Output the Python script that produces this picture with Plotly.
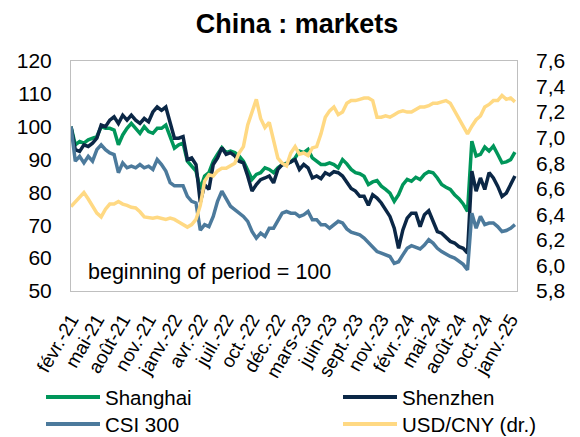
import plotly.graph_objects as go

# ---------------- data (biweekly, week index from start) ----------------
weeks = list(range(0, 208, 2))  # 104 points
tick_weeks = list(range(0, 205, 12))
tick_labels = ["févr.-21", "mai-21", "août-21", "nov.-21", "janv.-22", "avr.-22",
               "juil.-22", "oct.-22", "déc.-22", "mars-23", "juin-23", "sept.-23",
               "nov.-23", "févr.-24", "mai-24", "août-24", "oct.-24", "janv.-25"]

shanghai = [100, 94.5, 95.5, 95, 96, 96.5, 97, 100, 99.5, 99.5,
            99, 94.5, 97.5, 99.5, 101, 99.5, 98, 100, 98.5, 98,
            99.5, 99.5, 100.5, 97, 93.5, 94.5, 95,
            89.5, 88, 86.5, 81, 85, 86, 89.5, 91.6, 93.6, 92.1,
            92.6, 92.1, 91.1, 89.5, 86.5, 84, 85.5, 86, 87.5, 87,
            86, 87.5, 88.5, 89, 89.3, 90.5,
            92.6, 92.1, 93.1, 90.5, 89.5, 88.5, 88.5, 89, 88.5, 87.5,
            90, 88.7, 87, 86, 85.7, 84.9, 82.4, 83.2, 83.6, 81.9,
            80.9, 79.8, 77.3, 79.3, 82.4, 84,
            83.4, 84.6, 83.9, 85.5, 86.3, 86, 84.4, 82.4, 81.6, 80.9,
            79.3, 78.1, 76.5, 74.2, 95.6, 91.1, 91.6, 93.8, 92.6, 94.1,
            91.6, 89, 89.3, 90, 92.3]

shenzhen = [100, 93, 92.5, 94.5, 94, 95, 96.5, 100.5, 100, 102,
            103, 101, 103.5, 102, 103.5, 102, 101, 102.5, 101.5, 104.5,
            106, 105, 106, 101, 96.5, 96.5, 97,
            90, 90.5, 88.5, 77, 82.4, 80.9, 88.5, 90.5, 93.6, 91.6,
            92.1, 91.1, 89.5, 89, 85, 80.4, 82.4, 83.9, 84.4, 85,
            82.9, 87, 88.5, 88.5, 89.3, 90,
            87, 88.5, 87.5, 84.4, 85, 84.2, 86, 85.3, 86.3, 86,
            85, 82.9, 81.2, 80.4, 78.8, 78.8, 76.1, 79.3, 78.3, 76.8,
            74.8, 72.7, 69.1, 63, 68.6, 72.2,
            73.7, 73.7, 69.6, 73.2, 74.4, 71.2, 68.1, 67.6, 66.3, 65.1,
            64.6, 63.5, 63, 61.5, 86.5, 80.4, 84.4, 80.9, 86, 84.4,
            81.9, 78.8, 79.8, 82.4, 85]

csi300 = [100, 89.5, 91, 89, 91, 89.5, 93, 94.5, 93, 92,
          91.5, 86, 89, 87.5, 88, 87.5, 88.5, 87.5, 88, 87,
          90, 88.5, 86.5, 83, 82, 82, 82,
          78.8, 77.3, 76.8, 68.5, 70.2, 69.6, 72.7, 77.3, 80.4, 78.3,
          75.8, 74.8, 73.7, 72.7, 71.2, 68.1, 66.1, 67.6, 66.6, 69.1,
          69.1, 71.2, 73.7, 74.2, 73.7, 73.7,
          72.7, 73.2, 74.2, 71.7, 71.7, 70.2, 70.2, 69.1, 70.2, 71.2,
          70.7, 68.9, 67.9, 67.6, 67.1, 66.1, 64.6, 63.5, 62, 61.5,
          61, 60.5, 58.4, 58.9, 61, 63,
          63.8, 63.2, 62.8, 64, 65.6, 64.6, 63, 62, 61.2, 60.5,
          60, 59.2, 58.1, 56.4, 73.7, 69.1, 72.7, 70.2, 70.7, 70.7,
          69.6, 68.1, 68.4, 69.1, 70.2]

usdcny = [6.46, 6.50, 6.54, 6.57, 6.52, 6.46, 6.41, 6.38, 6.44, 6.48,
          6.48, 6.50, 6.48, 6.47, 6.455, 6.45, 6.42, 6.38, 6.376, 6.37,
          6.376, 6.365, 6.36, 6.37, 6.36, 6.34, 6.32,
          6.30, 6.32, 6.36, 6.47, 6.66, 6.71, 6.70, 6.74, 6.76, 6.76,
          6.78, 6.80, 6.88, 6.93, 7.10, 7.21, 7.30, 7.15, 7.08, 7.12,
          6.98, 6.84, 6.80, 6.78, 6.88, 6.93,
          6.87, 6.88, 6.86, 6.92, 6.93, 7.03, 7.16, 7.21, 7.24, 7.18,
          7.20, 7.27, 7.29, 7.29, 7.30, 7.31, 7.31, 7.29, 7.16, 7.16,
          7.17, 7.16, 7.18, 7.20, 7.21, 7.20,
          7.20, 7.22, 7.24, 7.24, 7.25, 7.27, 7.27, 7.28, 7.29, 7.27,
          7.21, 7.14, 7.09, 7.03, 7.09, 7.14, 7.17, 7.24, 7.26, 7.29,
          7.29, 7.33, 7.30, 7.31, 7.28]

names = ["Shanghai", "Shenzhen", "CSI 300", "USD/CNY (dr.)"]
colors = ["#00965A", "#0B2746", "#4C7A9C", "#FFD983"]

FONT = "Liberation Sans, Arial, sans-serif"

fig = go.Figure()
for name, ys, col in zip(names[:3], [shanghai, shenzhen, csi300], colors[:3]):
    fig.add_trace(go.Scatter(x=weeks[:len(ys)], y=ys, mode="lines", name=name,
                             line=dict(color=col, width=3.5), showlegend=False))
fig.add_trace(go.Scatter(x=weeks[:len(usdcny)], y=usdcny, mode="lines", name=names[3],
                         line=dict(color=colors[3], width=3.5), yaxis="y2",
                         showlegend=False))

# plot area in pixels: x 71..517, y 61..291
L, R, T, B = 71, 517, 61, 291
W, H = 580, 437

def px(xp):
    return (xp - L) / (R - L)

def py(yp):
    return (B - yp) / (B - T)

fig.update_layout(
    width=W, height=H,
    margin=dict(l=L, r=W - R, t=T, b=H - B),
    paper_bgcolor="white", plot_bgcolor="white",
    separators=", ",
    font=dict(family=FONT, size=21, color="#000000"),
    title=dict(text="<b>China : markets</b>", x=297 / W, xanchor="center",
               y=1 - 24 / H, yanchor="middle",
               font=dict(family=FONT, size=27, color="#000000")),
    xaxis=dict(range=[0, 206.96], tickmode="array", tickvals=tick_weeks,
               ticktext=tick_labels, tickangle=-60, showgrid=False, zeroline=False,
               showline=True, mirror=True, linecolor="#BFBFBF", linewidth=1,
               ticks="", ticklabelstandoff=9, tickfont=dict(size=19)),
    yaxis=dict(range=[50, 120], dtick=10, showgrid=False, zeroline=False,
               showline=True, mirror=True, linecolor="#BFBFBF", linewidth=1,
               ticks="", ticklabelstandoff=14, tickfont=dict(size=21)),
    yaxis2=dict(range=[5.8, 7.6], dtick=0.2, tickformat=".1f", overlaying="y",
                side="right", showgrid=False, zeroline=False, showline=False,
                ticks="", ticklabelstandoff=18, tickfont=dict(size=21)),
    showlegend=False,
)

fig.add_annotation(text="beginning of period = 100", xref="paper", yref="paper",
                   x=px(86), y=py(272), xanchor="left", yanchor="middle",
                   showarrow=False, font=dict(family=FONT, size=21.5, color="#000000"))

# legend (2 columns)
leg = [(46, 100, 103, 397), (343, 397, 400, 397), (46, 100, 103, 424), (343, 397, 400, 424)]
for (x0, x1, xt, yy), name, col in zip(leg, names, colors):
    fig.add_shape(type="line", xref="paper", yref="paper", x0=px(x0), x1=px(x1),
                  y0=py(yy), y1=py(yy), line=dict(color=col, width=4))
    fig.add_annotation(text=name, xref="paper", yref="paper", x=px(xt), y=py(yy),
                       xanchor="left", yanchor="middle", showarrow=False,
                       font=dict(family=FONT, size=20.5, color="#000000"))

fig.write_html("out.html")
